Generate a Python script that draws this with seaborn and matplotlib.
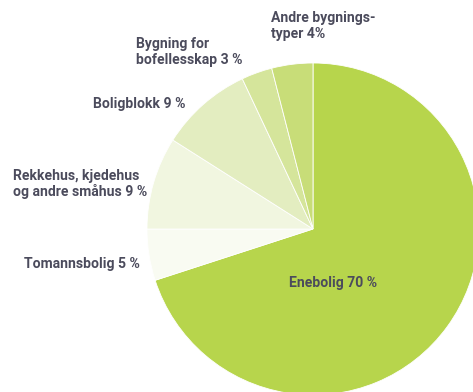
import matplotlib
matplotlib.use("Agg")
import matplotlib.pyplot as plt
import seaborn as sns

categories = ["Enebolig", "Tomannsbolig", "Rekkehus, kjedehus\nog andre småhus",
              "Boligblokk", "Bygning for\nbofellesskap", "Andre bygnings-\ntyper"]
values = [70, 5, 9, 9, 3, 4]
labels = ["Enebolig 70 %", "Tomannsbolig 5 %", "Rekkehus, kjedehus\nog andre småhus 9 %",
          "Boligblokk 9 %", "Bygning for\nbofellesskap 3 %", "Andre bygnings-\ntyper 4%"]
colors = ["#b7d54c", "#f9fbf2", "#f1f6e0", "#e3edc0", "#d5e59b", "#c8dd78"]

sns.set_theme(style="white")
plt.rcParams["font.family"] = ["Roboto", "DejaVu Sans"]

W, H = 473, 392
fig = plt.figure(figsize=(W / 100, H / 100), dpi=100)
ax = fig.add_axes([0, 0, 1, 1])
cx, cy, R = 313, 229, 166

ax.pie(values, colors=colors, startangle=90, counterclock=False, radius=1,
       wedgeprops=dict(linewidth=0.6, edgecolor="white"))
ax.set_xlim(-cx / R, (W - cx) / R)
ax.set_ylim(-(H - cy) / R, cy / R)
ax.set_aspect("auto")
ax.axis("off")

def px(x, y):
    return ((x - cx) / R, (cy - y) / R)

text_color = "#4b4b5c"
label_pos = [(289, 283), (24, 264), (13, 184), (93, 104), (136, 52), (271, 26)]
for lab, (x, y) in zip(labels, label_pos):
    tx, ty = px(x, y)
    ax.text(tx, ty, lab, ha="left", va="center", fontsize=10.1, fontweight="bold",
            color=text_color, linespacing=1.15)

fig.savefig("out.png", dpi=100, facecolor="white")
